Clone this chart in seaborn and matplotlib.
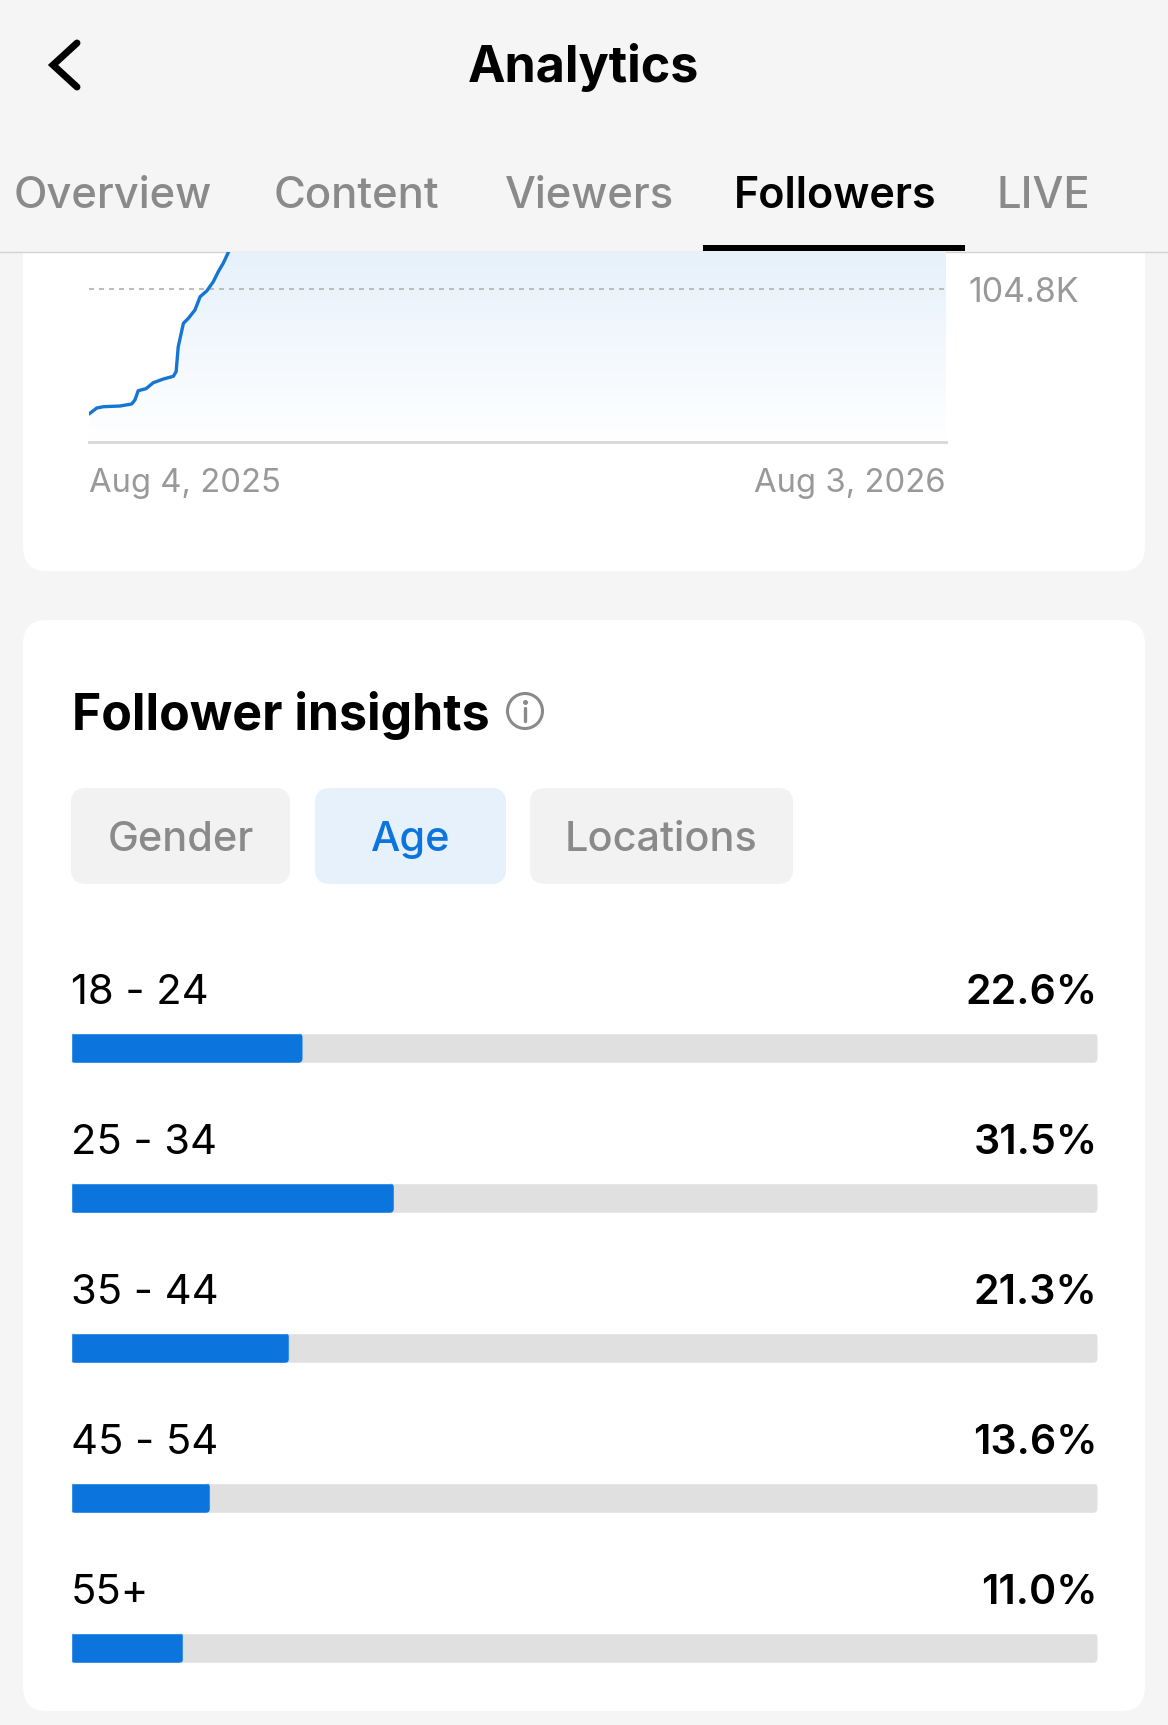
import matplotlib
matplotlib.use("Agg")
import numpy as np
import pandas as pd
import seaborn as sns
import matplotlib.pyplot as plt
from matplotlib.patches import FancyBboxPatch, Rectangle, Circle
from matplotlib.colors import LinearSegmentedColormap
from matplotlib.transforms import IdentityTransform

# ---- data ----
days = [0, 3.3, 6.1, 13.2, 18.1, 19.5, 20.9, 24.2, 27.3, 31.6, 35.8, 37, 37.9, 40.1,
        42.2, 45, 47.2, 50, 52.8, 54.9, 57, 59.2, 66, 120, 364]
followers_k = [92.3, 92.9, 93.03, 93.1, 93.3, 93.7, 94.63, 94.83, 95.43, 95.8, 96.07, 96.53,
               99.03, 101.37, 101.87, 102.7, 104.03, 104.6, 105.53, 106.53, 107.37, 108.47,
               111, 125, 150]
reference_k = 104.8
date_labels = ["Aug 4, 2025", "Aug 3, 2026"]
date_days = [0, 364]
ages = ["18 - 24", "25 - 34", "35 - 44", "45 - 54", "55+"]
shares = [22.6, 31.5, 21.3, 13.6, 11.0]
tabs = ["Overview", "Content", "Viewers", "Followers", "LIVE"]
chips = ["Gender", "Age", "Locations"]

W, H = 1168, 1725
BG = "#F5F5F5"
BLUE = "#0B75DD"
LINE = "#1476D2"
GREY = "#8A8A8A"
FONT = "Inter"

sns.set_theme(style="white")
plt.rcParams["font.family"] = [FONT, "DejaVu Sans"]
fig = plt.figure(figsize=(W / 100, H / 100), dpi=100, facecolor=BG)

def px_axes(x0, y0, x1, y1, **kw):
    return fig.add_axes([x0 / W, 1 - y1 / H, (x1 - x0) / W, (y1 - y0) / H], **kw)

# ---- page chrome in pixel coordinates ----
ui = fig.add_axes([0, 0, 1, 1], zorder=0)
ui.set_xlim(0, W); ui.set_ylim(H, 0); ui.axis("off")

def rbox(x0, y0, x1, y1, r, color, z=1):
    ui.add_patch(FancyBboxPatch((x0 + r, y0 + r), x1 - x0 - 2 * r, y1 - y0 - 2 * r,
                                boxstyle=f"round,pad={r},rounding_size={r}",
                                fc=color, ec="none", zorder=z))

rbox(23, -60, 1145, 571, 24, "white")
rbox(23, 620, 1145, 1711, 24, "white")
ui.add_patch(Rectangle((0, 0), W, 252, fc=BG, ec="none", zorder=5))
ui.plot([0, W], [252, 252], color="#D2D2D2", lw=1, zorder=6)
ui.plot([77, 53, 77], [43, 65, 87], color="black", lw=5, zorder=6,
        solid_joinstyle="miter", solid_capstyle="round")
ui.text(583.5, 68, "Analytics", fontsize=36.2, fontweight="bold", color="black",
        ha="center", va="center", zorder=6)
tab_x = [14, 274, 505, 734, 996]
for name, x in zip(tabs, tab_x):
    active = name == "Followers"
    ui.text(x, 196, name, fontsize=31 if active else 31.4, fontweight="semibold" if active else "medium",
            color="black" if active else GREY, ha="left", va="center", zorder=6)
ui.add_patch(Rectangle((703, 245), 262, 6, fc="black", ec="none", zorder=7))

ui.text(72, 716, "Follower insights", fontsize=36, fontweight="bold", color="black",
        ha="left", va="center", zorder=6)
ui.add_patch(Circle((525, 711), 17.5, fc="none", ec=GREY, lw=2.2, zorder=6))
ui.plot([525, 525], [708, 721], color=GREY, lw=2.4, zorder=6)
ui.plot([525], [701.5], "o", color=GREY, ms=2.6, zorder=6)

chip_boxes = [(71, 290), (315, 506), (530, 793)]
for name, (a, b) in zip(chips, chip_boxes):
    active = name == "Age"
    rbox(a, 788, b, 884, 15, "#E6F1FB" if active else "#F2F2F2", z=2)
    ui.text((a + b) / 2, 840, name, fontsize=29.8, fontweight="medium",
            color=BLUE if active else GREY, ha="center", va="center", zorder=6)

# ---- line chart ----
ax = px_axes(89, 252, 946, 442, zorder=1)
ax.patch.set_alpha(0)
sns.lineplot(x=days, y=followers_k, ax=ax, color=LINE, linewidth=2.4, errorbar=None, zorder=4)
ax.set_xlim(0, 364)
ax.set_ylim(89.5, 108.5)
poly = ax.fill_between(days, followers_k, 89.5, color="none", linewidth=0)
cmap = LinearSegmentedColormap.from_list("fade", ["white", "#E6F1FB"])
im = ax.imshow(np.linspace(1, 0, 256)[:, None], extent=(0, 364, 89.5, 108.5), aspect="auto",
               cmap=cmap, vmin=0, vmax=1, zorder=1)
im.set_clip_path(poly.get_paths()[0], ax.transData)
ax.axhline(reference_k, color="#BDBDBD", lw=1.5, dashes=(2.4, 2.4), zorder=3)
for s in ["top", "left", "right"]:
    ax.spines[s].set_visible(False)
ax.spines["bottom"].set_color("#D8D8D8")
ax.spines["bottom"].set_linewidth(2)
ax.set_xticks(date_days, date_labels)
ax.tick_params(axis="x", length=0, pad=18.5, labelsize=23.6, labelcolor="#999999")
for lab, ha in zip(ax.get_xticklabels(), ["left", "right"]):
    lab.set_ha(ha)
ax.yaxis.tick_right()
ax.set_yticks([reference_k], [f"{reference_k}K"])
ax.tick_params(axis="y", length=0, pad=16.5, labelsize=24.4, labelcolor="#999999")
ax.set_xlabel(""); ax.set_ylabel("")

# ---- age bars ----
bx = px_axes(70.5, 973, 1097.5, 1723, zorder=2)
bx.patch.set_alpha(0)
sns.barplot(x=[100] * len(ages), y=ages, ax=bx, color="#E0E0E0", width=0.2, saturation=1, orient="h")
sns.barplot(x=shares, y=ages, ax=bx, color=BLUE, width=0.2, saturation=1, orient="h")
bx.set_xlim(0, 100)
bx.set_ylim(len(ages) - 0.5, -0.5)
bx.axis("off")
fig.canvas.draw()
for p in bx.patches:
    e = p.get_window_extent()
    r = 5
    clip = FancyBboxPatch((e.x0 + r, e.y0 + r), e.width - 2 * r, e.height - 2 * r,
                          boxstyle=f"round,pad={r},rounding_size={r}",
                          transform=IdentityTransform())
    p.set_clip_path(clip)
for i, (age, v) in enumerate(zip(ages, shares)):
    bx.text(0.05, i - 0.367, age, fontsize=30, color="black", ha="left", va="center", clip_on=False)
    bx.text(100, i - 0.367, f"{v:.1f}%", fontsize=29.6, fontweight="semibold", color="black",
            ha="right", va="center", clip_on=False)

fig.savefig("out.png", dpi=100, facecolor=BG)
